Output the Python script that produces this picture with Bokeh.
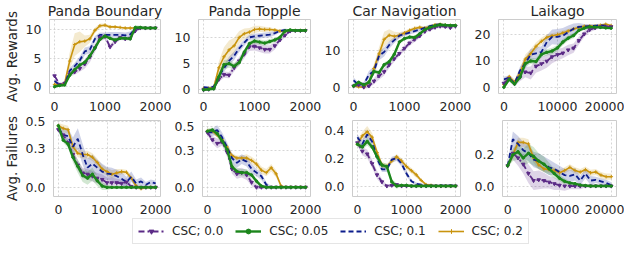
from bokeh.plotting import figure
from bokeh.layouts import column, row
from bokeh.models import Range1d, Legend, LegendItem, NumeralTickFormatter
from bokeh.embed import file_html
from bokeh.resources import INLINE

# ---------------- data ----------------
titles = ["Panda Boundary", "Panda Topple", "Car Navigation", "Laikago"]
labels = ["CSC; 0.0", "CSC; 0.05", "CSC; 0.1", "CSC; 0.2"]

steps = [0, 100, 200, 300, 400, 500, 600, 700, 800, 900, 1000,
         1100, 1200, 1300, 1400, 1500, 1600, 1700, 1800, 1900, 2000]
laikago_steps = [0, 1000, 2000, 3000, 4000, 5000, 6000, 7000, 8000, 9000, 10000,
                 11000, 12000, 13000, 14000, 15000, 16000, 17000, 18000, 19000, 20000]

# Panda Boundary - rewards
pb_rew_p = [1.9, 0.4, 0.6, 2.2, 2.6, 3.2, 4.0, 5.2, 6.8, 8.6, 8.8, 7.0, 7.9, 8.6, 8.4, 8.5, 9.8, 10.3, 10.3, 10.3, 10.3]
pb_rew_p_sd = [0.3, 0.2, 0.3, 0.4, 0.5, 0.6, 0.8, 0.9, 0.8, 0.6, 0.5, 0.5, 0.4, 0.4, 0.3, 0.3, 0.3, 0.2, 0.2, 0.2, 0.2]
pb_rew_g = [0.0, 0.2, 0.3, 2.0, 3.0, 3.8, 4.3, 5.4, 6.8, 8.3, 8.9, 8.5, 8.2, 8.5, 8.5, 8.4, 10.4, 10.4, 10.3, 10.3, 10.3]
pb_rew_g_sd = [0.2, 0.2, 0.2, 0.3, 0.3, 0.3, 0.3, 0.3, 0.3, 0.3, 0.3, 0.3, 0.3, 0.3, 0.3, 0.3, 0.4, 0.3, 0.2, 0.2, 0.2]
pb_rew_b = [1.0, 0.3, 0.4, 2.8, 3.6, 4.6, 6.2, 6.5, 8.4, 9.1, 9.1, 9.1, 9.1, 9.1, 9.0, 9.2, 10.2, 10.3, 10.3, 10.3, 10.3]
pb_rew_b_sd = [0.3, 0.2, 0.3, 0.5, 0.6, 0.7, 0.7, 0.6, 0.5, 0.4, 0.4, 0.5, 0.5, 0.5, 0.5, 0.5, 0.3, 0.2, 0.2, 0.2, 0.2]
pb_rew_o = [0.4, 0.3, 0.6, 4.5, 7.4, 7.9, 8.0, 8.4, 9.9, 10.7, 10.8, 10.5, 10.5, 10.4, 10.3, 10.3, 10.3, 10.3, 10.3, 10.3, 10.3]
pb_rew_o_sd = [0.2, 0.2, 0.3, 1.5, 2.0, 1.8, 1.0, 0.7, 0.5, 0.4, 0.3, 0.3, 0.2, 0.2, 0.2, 0.2, 0.2, 0.2, 0.2, 0.2, 0.2]

# Panda Topple - rewards
pt_rew_p = [0.0, 0.1, 0.3, 2.0, 2.9, 2.8, 4.2, 5.5, 6.8, 8.2, 8.3, 8.0, 7.7, 7.7, 8.4, 9.5, 10.4, 11.2, 11.3, 11.3, 11.3]
pt_rew_p_sd = [0.2, 0.2, 0.3, 0.5, 0.6, 0.6, 0.7, 0.8, 0.8, 0.8, 0.8, 0.8, 0.8, 0.8, 0.7, 0.5, 0.4, 0.3, 0.2, 0.2, 0.2]
pt_rew_g = [0.0, 0.1, 0.2, 2.5, 4.8, 5.0, 4.5, 5.2, 7.2, 8.8, 9.3, 9.1, 8.9, 9.2, 9.5, 10.0, 11.2, 11.4, 11.3, 11.3, 11.3]
pt_rew_g_sd = [0.2, 0.2, 0.3, 0.7, 0.9, 0.8, 0.6, 0.6, 0.6, 0.5, 0.5, 0.5, 0.5, 0.5, 0.4, 0.3, 0.3, 0.2, 0.2, 0.2, 0.2]
pt_rew_b = [0.5, 0.4, 0.6, 2.6, 4.1, 5.5, 6.5, 7.9, 9.0, 10.0, 10.2, 10.3, 10.4, 10.5, 10.8, 11.2, 11.4, 11.3, 11.3, 11.3, 11.3]
pt_rew_b_sd = [0.2, 0.2, 0.3, 0.6, 0.7, 0.8, 0.8, 0.7, 0.6, 0.5, 0.5, 0.5, 0.5, 0.5, 0.4, 0.3, 0.3, 0.2, 0.2, 0.2, 0.2]
pt_rew_o = [0.3, 0.3, 0.5, 4.2, 6.3, 7.6, 8.4, 10.0, 10.7, 11.0, 11.5, 11.6, 11.5, 11.5, 11.4, 11.2, 11.1, 11.3, 11.3, 11.3, 11.3]
pt_rew_o_sd = [0.2, 0.2, 0.3, 1.2, 1.8, 1.8, 1.5, 1.2, 1.0, 0.8, 0.7, 0.6, 0.5, 0.4, 0.3, 0.3, 0.3, 0.2, 0.2, 0.2, 0.2]

# Car Navigation - rewards
cn_rew_p = [0.5, 0.8, 0.2, 0.5, 1.8, 3.2, 4.3, 6.2, 7.8, 9.2, 10.6, 12.0, 13.0, 13.9, 15.1, 15.7, 16.2, 16.5, 16.4, 16.1, 16.5]
cn_rew_p_sd = [0.5, 0.5, 0.4, 0.5, 0.8, 1.0, 1.0, 0.9, 0.8, 0.7, 0.7, 0.7, 0.7, 0.6, 0.5, 0.5, 0.5, 0.4, 0.4, 0.4, 0.4]
cn_rew_g = [0.5, 1.5, 0.8, 1.5, 4.4, 4.1, 6.2, 7.0, 9.0, 12.3, 13.2, 13.6, 13.5, 14.5, 15.6, 16.2, 16.6, 16.9, 16.8, 16.7, 16.7]
cn_rew_g_sd = [0.4, 0.5, 0.4, 0.5, 0.6, 0.6, 0.6, 0.6, 0.6, 0.5, 0.5, 0.5, 0.5, 0.5, 0.4, 0.4, 0.3, 0.3, 0.3, 0.3, 0.3]
cn_rew_b = [2.0, 0.8, 1.0, 3.5, 4.5, 8.6, 9.6, 11.5, 12.8, 14.0, 14.4, 14.8, 15.2, 15.6, 16.1, 16.5, 16.9, 17.0, 16.8, 16.7, 16.7]
cn_rew_b_sd = [0.8, 0.6, 0.6, 1.0, 1.2, 1.2, 1.2, 1.0, 0.8, 0.7, 0.6, 0.5, 0.5, 0.5, 0.4, 0.4, 0.3, 0.3, 0.3, 0.3, 0.3]
cn_rew_o = [0.5, 0.3, 0.2, 1.5, 5.2, 9.1, 13.0, 14.1, 13.8, 14.1, 14.7, 15.4, 15.9, 16.2, 16.0, 16.4, 16.9, 17.0, 16.8, 16.7, 16.7]
cn_rew_o_sd = [0.3, 0.3, 0.3, 0.6, 1.2, 1.8, 2.0, 1.6, 1.2, 0.8, 0.6, 0.5, 0.5, 0.4, 0.4, 0.4, 0.3, 0.3, 0.3, 0.3, 0.3]

# Laikago - rewards
lk_rew_p = [1.5, 3.2, 1.4, 3.8, 5.8, 5.4, 8.0, 8.9, 9.9, 11.6, 12.4, 13.0, 14.2, 14.9, 17.8, 20.3, 21.9, 22.6, 23.0, 23.0, 23.0]
lk_rew_p_sd = [1.0, 1.0, 1.0, 1.5, 2.0, 2.5, 2.5, 2.5, 2.5, 2.5, 2.2, 2.0, 2.0, 1.8, 1.5, 1.2, 1.0, 0.8, 0.6, 0.6, 0.6]
lk_rew_g = [0.0, 3.0, 1.2, 3.8, 9.0, 10.0, 9.8, 12.5, 13.3, 13.8, 15.0, 17.2, 18.7, 19.7, 21.7, 22.5, 23.0, 22.9, 22.8, 22.6, 22.5]
lk_rew_g_sd = [0.5, 0.8, 0.8, 1.0, 1.2, 1.2, 1.2, 1.2, 1.2, 1.2, 1.2, 1.2, 1.0, 1.0, 0.8, 0.7, 0.6, 0.5, 0.5, 0.5, 0.5]
lk_rew_b = [3.0, 3.6, 1.4, 6.3, 9.1, 12.4, 12.9, 13.4, 17.2, 19.2, 19.2, 19.6, 21.0, 22.3, 23.0, 23.1, 23.3, 23.4, 23.6, 23.5, 23.0]
lk_rew_b_sd = [1.0, 1.0, 1.0, 1.5, 2.0, 2.2, 2.2, 2.2, 2.5, 2.8, 3.0, 3.0, 2.5, 2.0, 1.5, 1.0, 0.8, 0.7, 0.6, 0.6, 0.6]
lk_rew_o = [1.0, 4.0, 2.0, 5.5, 10.7, 12.8, 15.6, 17.5, 19.0, 19.6, 20.0, 20.7, 21.4, 22.2, 22.8, 23.2, 23.3, 23.3, 23.6, 24.0, 23.5]
lk_rew_o_sd = [0.8, 1.0, 1.0, 1.5, 1.8, 1.8, 1.5, 1.3, 1.2, 1.0, 1.0, 0.9, 0.8, 0.7, 0.6, 0.6, 0.5, 0.5, 0.5, 0.5, 0.5]

# Panda Boundary - failures
pb_fail_p = [0.44, 0.40, 0.34, 0.25, 0.17, 0.11, 0.10, 0.085, 0.07, 0.06, 0.035, 0.035, 0.035, 0.03, 0.04, 0.005, 0.0, 0.0, 0.0, 0.0, 0.0]
pb_fail_p_sd = [0.02, 0.02, 0.03, 0.04, 0.04, 0.04, 0.04, 0.04, 0.04, 0.04, 0.04, 0.04, 0.03, 0.03, 0.03, 0.02, 0.01, 0.01, 0.01, 0.01, 0.01]
pb_fail_g = [0.47, 0.36, 0.33, 0.23, 0.16, 0.09, 0.07, 0.10, 0.05, 0.01, 0.0, 0.0, 0.0, 0.0, 0.0, 0.0, 0.0, 0.0, 0.0, 0.0, 0.0]
pb_fail_g_sd = [0.02, 0.02, 0.03, 0.04, 0.05, 0.05, 0.05, 0.05, 0.04, 0.03, 0.02, 0.01, 0.01, 0.01, 0.01, 0.01, 0.01, 0.01, 0.01, 0.01, 0.01]
pb_fail_b = [0.45, 0.40, 0.39, 0.31, 0.37, 0.25, 0.15, 0.18, 0.15, 0.12, 0.105, 0.10, 0.085, 0.065, 0.04, 0.08, 0.03, 0.045, 0.02, 0.04, 0.03]
pb_fail_b_sd = [0.03, 0.05, 0.06, 0.07, 0.08, 0.08, 0.07, 0.07, 0.06, 0.06, 0.05, 0.05, 0.05, 0.05, 0.04, 0.04, 0.03, 0.03, 0.02, 0.02, 0.02]
pb_fail_o = [0.47, 0.45, 0.44, 0.31, 0.26, 0.25, 0.25, 0.23, 0.19, 0.14, 0.12, 0.10, 0.11, 0.12, 0.115, 0.07, 0.01, -0.01, 0.0, 0.0, 0.0]
pb_fail_o_sd = [0.02, 0.03, 0.03, 0.03, 0.03, 0.03, 0.03, 0.03, 0.03, 0.03, 0.03, 0.03, 0.03, 0.02, 0.02, 0.02, 0.02, 0.01, 0.01, 0.01, 0.01]

# Panda Topple - failures
pt_fail_p = [0.45, 0.39, 0.36, 0.37, 0.29, 0.15, 0.11, 0.12, 0.10, 0.04, 0.0, 0.0, 0.0, 0.0, 0.0, 0.0, 0.0, 0.0, 0.0, 0.0, 0.0]
pt_fail_p_sd = [0.02, 0.03, 0.04, 0.03, 0.04, 0.04, 0.04, 0.04, 0.04, 0.03, 0.02, 0.01, 0.005, 0.005, 0.005, 0.005, 0.005, 0.005, 0.005, 0.005, 0.005]
pt_fail_g = [0.46, 0.47, 0.44, 0.38, 0.31, 0.17, 0.13, 0.12, 0.12, 0.10, 0.05, 0.01, 0.0, 0.0, 0.0, 0.0, 0.0, 0.0, 0.0, 0.0, 0.0]
pt_fail_g_sd = [0.02, 0.02, 0.03, 0.03, 0.04, 0.04, 0.03, 0.03, 0.03, 0.02, 0.02, 0.01, 0.005, 0.005, 0.005, 0.005, 0.005, 0.005, 0.005, 0.005, 0.005]
pt_fail_b = [0.45, 0.45, 0.47, 0.41, 0.33, 0.24, 0.20, 0.23, 0.21, 0.15, 0.12, 0.09, 0.02, 0.0, 0.0, 0.0, 0.0, 0.0, 0.0, 0.0, 0.0]
pt_fail_b_sd = [0.02, 0.03, 0.04, 0.04, 0.04, 0.04, 0.04, 0.04, 0.04, 0.04, 0.03, 0.03, 0.02, 0.01, 0.005, 0.005, 0.005, 0.005, 0.005, 0.005, 0.005]
pt_fail_o = [0.46, 0.46, 0.43, 0.39, 0.33, 0.26, 0.24, 0.24, 0.24, 0.22, 0.19, 0.14, 0.12, 0.16, 0.11, 0.01, 0.0, 0.0, 0.0, 0.0, 0.0]
pt_fail_o_sd = [0.02, 0.02, 0.02, 0.02, 0.02, 0.02, 0.02, 0.02, 0.03, 0.03, 0.03, 0.03, 0.03, 0.03, 0.03, 0.01, 0.005, 0.005, 0.005, 0.005, 0.005]

# Car Navigation - failures
cn_fail_p = [0.31, 0.25, 0.23, 0.16, 0.08, 0.03, 0.0, 0.005, 0.01, 0.0, 0.0, 0.0, 0.0, 0.0, 0.0, 0.0, 0.0, 0.0, 0.0, 0.0, 0.0]
cn_fail_p_sd = [0.02, 0.03, 0.03, 0.03, 0.03, 0.02, 0.01, 0.01, 0.01, 0.005, 0.005, 0.005, 0.005, 0.005, 0.005, 0.005, 0.005, 0.005, 0.005, 0.005, 0.005]
cn_fail_g = [0.30, 0.28, 0.32, 0.28, 0.21, 0.15, 0.14, 0.03, 0.0, 0.005, 0.005, 0.0, 0.0, 0.0, 0.0, 0.0, 0.0, 0.0, 0.0, 0.0, 0.0]
cn_fail_g_sd = [0.02, 0.02, 0.03, 0.02, 0.02, 0.02, 0.02, 0.02, 0.02, 0.01, 0.01, 0.01, 0.005, 0.005, 0.005, 0.005, 0.005, 0.005, 0.005, 0.005, 0.005]
cn_fail_b = [0.35, 0.30, 0.37, 0.32, 0.20, 0.12, 0.12, 0.19, 0.20, 0.16, 0.09, 0.035, 0.015, 0.01, 0.0, 0.005, 0.0, 0.005, 0.0, 0.005, 0.0]
cn_fail_b_sd = [0.02, 0.03, 0.03, 0.03, 0.03, 0.02, 0.02, 0.02, 0.02, 0.02, 0.02, 0.01, 0.01, 0.01, 0.01, 0.01, 0.01, 0.01, 0.01, 0.01, 0.01]
cn_fail_o = [0.30, 0.36, 0.39, 0.35, 0.24, 0.15, 0.14, 0.18, 0.21, 0.18, 0.14, 0.11, 0.08, 0.04, 0.01, 0.005, 0.0, 0.0, 0.0, 0.0, 0.0]
cn_fail_o_sd = [0.02, 0.03, 0.04, 0.03, 0.03, 0.02, 0.02, 0.02, 0.02, 0.02, 0.02, 0.02, 0.02, 0.01, 0.01, 0.01, 0.01, 0.01, 0.01, 0.01, 0.01]

# Laikago - failures
lk_fail_p = [0.13, 0.21, 0.18, 0.14, 0.08, 0.035, 0.04, 0.035, 0.025, 0.015, 0.005, 0.0, 0.0, 0.0, 0.0, 0.0, 0.0, 0.0, 0.0, 0.0, 0.0]
lk_fail_p_sd = [0.01, 0.04, 0.05, 0.06, 0.06, 0.06, 0.06, 0.05, 0.04, 0.04, 0.03, 0.03, 0.02, 0.02, 0.02, 0.01, 0.01, 0.01, 0.01, 0.01, 0.01]
lk_fail_g = [0.13, 0.20, 0.22, 0.18, 0.21, 0.19, 0.16, 0.14, 0.11, 0.08, 0.05, 0.03, 0.02, 0.015, 0.006, 0.003, 0.0, 0.0, 0.0, 0.0, 0.0]
lk_fail_g_sd = [0.01, 0.04, 0.05, 0.06, 0.06, 0.06, 0.05, 0.05, 0.04, 0.03, 0.02, 0.02, 0.01, 0.01, 0.01, 0.01, 0.01, 0.005, 0.005, 0.005, 0.005]
lk_fail_b = [0.13, 0.30, 0.27, 0.23, 0.21, 0.17, 0.16, 0.14, 0.12, 0.11, 0.09, 0.07, 0.065, 0.075, 0.035, 0.08, 0.035, 0.04, 0.03, 0.02, 0.005]
lk_fail_b_sd = [0.02, 0.05, 0.05, 0.05, 0.05, 0.05, 0.05, 0.05, 0.05, 0.04, 0.04, 0.04, 0.04, 0.04, 0.03, 0.03, 0.03, 0.02, 0.02, 0.02, 0.02]
lk_fail_o = [0.13, 0.20, 0.28, 0.28, 0.27, 0.18, 0.135, 0.11, 0.105, 0.10, 0.085, 0.10, 0.12, 0.10, 0.09, 0.105, 0.085, 0.09, 0.07, 0.06, 0.06]
lk_fail_o_sd = [0.01, 0.03, 0.03, 0.03, 0.03, 0.03, 0.03, 0.02, 0.02, 0.02, 0.02, 0.02, 0.02, 0.02, 0.02, 0.02, 0.02, 0.02, 0.02, 0.02, 0.02]

# ---------------- style ----------------
FONT = "DejaVu Sans"
TXT = "#262626"
PURPLE = "#5b2a86"
GREEN = "#1c861c"
BLUE = "#0c1d8c"
GOLD = "#c9940e"

STYLES = {
    "p": dict(color=PURPLE, dash="6 3 2 3", lw=1.8, marker="inverted_triangle", ms=3.5),
    "g": dict(color=GREEN, dash="solid", lw=2.4, marker="circle", ms=2.5),
    "b": dict(color=BLUE, dash="5 3", lw=1.8, marker=None, ms=0),
    "o": dict(color=GOLD, dash="solid", lw=1.6, marker="cross", ms=3.5),
}
DRAW_ORDER = ["o", "b", "p", "g"]

WIDTHS = [171, 150, 150, 153]
LEFTS = [42, 23, 23, 23]
RIGHTS = [11, 11, 11, 8]
TOP_H = 113
BOT_H = 103


def make_panel(col, xs, series, xr, yr, xticks, yticks, yfmt, top_row, ylabel):
    height = TOP_H if top_row else BOT_H
    p = figure(width=WIDTHS[col], height=height, output_backend="svg",
               toolbar_location=None, x_range=Range1d(*xr), y_range=Range1d(*yr),
               min_border_left=LEFTS[col], min_border_right=RIGHTS[col],
               min_border_top=18 if top_row else 7, min_border_bottom=17,
               title=titles[col] if top_row else None)
    p.background_fill_color = "white"
    p.border_fill_color = "white"
    p.outline_line_color = "#cccccc"
    p.outline_line_width = 1
    if top_row:
        p.title.text_font = FONT
        p.title.text_font_size = "14px"
        p.title.text_font_style = "normal"
        p.title.text_color = TXT
        p.title.align = "center"
        p.title.standoff = 1
    for ax in (p.xaxis[0], p.yaxis[0]):
        ax.axis_line_color = None
        ax.major_tick_line_color = None
        ax.minor_tick_line_color = None
        ax.major_label_text_font = FONT
        ax.major_label_text_font_size = "12.5px"
        ax.major_label_text_color = TXT
        ax.major_label_standoff = 2
    p.xaxis[0].ticker = xticks
    p.yaxis[0].ticker = yticks
    p.xaxis[0].formatter = NumeralTickFormatter(format="0")
    p.yaxis[0].formatter = NumeralTickFormatter(format=yfmt)
    if ylabel:
        p.yaxis[0].axis_label = ylabel
        p.yaxis[0].axis_label_text_font = FONT
        p.yaxis[0].axis_label_text_font_size = "13.5px"
        p.yaxis[0].axis_label_text_font_style = "normal"
        p.yaxis[0].axis_label_text_color = TXT
        p.yaxis[0].axis_label_standoff = 3
    for g in (p.xgrid[0], p.ygrid[0]):
        g.grid_line_color = "#cccccc"
        g.grid_line_dash = "2 2"
        g.grid_line_width = 0.8

    for key in DRAW_ORDER:
        m, sd = series[key]
        st = STYLES[key]
        lo = [a - b for a, b in zip(m, sd)]
        hi = [a + b for a, b in zip(m, sd)]
        p.varea(x=xs, y1=lo, y2=hi, fill_color=st["color"], fill_alpha=0.2)
    for key in DRAW_ORDER:
        m, sd = series[key]
        st = STYLES[key]
        p.line(x=xs, y=m, line_color=st["color"], line_width=st["lw"], line_dash=st["dash"])
        if st["marker"]:
            p.scatter(x=xs, y=m, marker=st["marker"], size=st["ms"],
                      line_color=st["color"], fill_color=st["color"])
    return p


X_SHORT = (-100, 2100)
X_LONG = (-1000, 21000)
T_SHORT = [0, 1000, 2000]
T_LONG = [0, 10000, 20000]

rew_panels = [
    (steps, {"p": (pb_rew_p, pb_rew_p_sd), "g": (pb_rew_g, pb_rew_g_sd), "b": (pb_rew_b, pb_rew_b_sd), "o": (pb_rew_o, pb_rew_o_sd)},
     X_SHORT, (-1.2, 11.8), T_SHORT, [0, 5, 10]),
    (steps, {"p": (pt_rew_p, pt_rew_p_sd), "g": (pt_rew_g, pt_rew_g_sd), "b": (pt_rew_b, pt_rew_b_sd), "o": (pt_rew_o, pt_rew_o_sd)},
     X_SHORT, (-0.7, 13.4), T_SHORT, [0, 5, 10]),
    (steps, {"p": (cn_rew_p, cn_rew_p_sd), "g": (cn_rew_g, cn_rew_g_sd), "b": (cn_rew_b, cn_rew_b_sd), "o": (cn_rew_o, cn_rew_o_sd)},
     X_SHORT, (-1.5, 18.3), T_SHORT, [0, 10]),
    (laikago_steps, {"p": (lk_rew_p, lk_rew_p_sd), "g": (lk_rew_g, lk_rew_g_sd), "b": (lk_rew_b, lk_rew_b_sd), "o": (lk_rew_o, lk_rew_o_sd)},
     X_LONG, (-2.4, 25.8), T_LONG, [0, 10, 20]),
]
fail_panels = [
    (steps, {"p": (pb_fail_p, pb_fail_p_sd), "g": (pb_fail_g, pb_fail_g_sd), "b": (pb_fail_b, pb_fail_b_sd), "o": (pb_fail_o, pb_fail_o_sd)},
     X_SHORT, (-0.07, 0.51), T_SHORT, [0, 0.3, 0.5]),
    (steps, {"p": (pt_fail_p, pt_fail_p_sd), "g": (pt_fail_g, pt_fail_g_sd), "b": (pt_fail_b, pt_fail_b_sd), "o": (pt_fail_o, pt_fail_o_sd)},
     X_SHORT, (-0.076, 0.548), T_SHORT, [0, 0.3, 0.5]),
    (steps, {"p": (cn_fail_p, cn_fail_p_sd), "g": (cn_fail_g, cn_fail_g_sd), "b": (cn_fail_b, cn_fail_b_sd), "o": (cn_fail_o, cn_fail_o_sd)},
     X_SHORT, (-0.075, 0.47), T_SHORT, [0, 0.2, 0.4]),
    (laikago_steps, {"p": (lk_fail_p, lk_fail_p_sd), "g": (lk_fail_g, lk_fail_g_sd), "b": (lk_fail_b, lk_fail_b_sd), "o": (lk_fail_o, lk_fail_o_sd)},
     X_LONG, (-0.067, 0.42), T_LONG, [0, 0.2]),
]

top = []
for i, (xs, ser, xr, yr, xt, yt) in enumerate(rew_panels):
    top.append(make_panel(i, xs, ser, xr, yr, xt, yt, "0", True, "Avg. Rewards" if i == 0 else None))
bottom = []
for i, (xs, ser, xr, yr, xt, yt) in enumerate(fail_panels):
    bottom.append(make_panel(i, xs, ser, xr, yr, xt, yt, "0.0", False, "Avg. Failures" if i == 0 else None))

# ---------------- legend ----------------
lg = figure(width=624, height=29, output_backend="svg", toolbar_location=None,
            x_range=Range1d(0, 1), y_range=Range1d(0, 1),
            x_axis_type=None, y_axis_type=None,
            min_border=0, min_border_left=0, min_border_right=0,
            min_border_top=0, min_border_bottom=0)
lg.outline_line_color = None
lg.background_fill_color = "white"
lg.border_fill_color = "white"
items = []
hidden_x = [-5, -4]
hidden_y = [-5, -4]
for key, lab in zip(["p", "g", "b", "o"], labels):
    st = STYLES[key]
    rs = [lg.line(x=hidden_x, y=hidden_y, line_color=st["color"], line_width=st["lw"], line_dash=st["dash"])]
    if st["marker"]:
        rs.append(lg.scatter(x=hidden_x, y=hidden_y, marker=st["marker"], size=st["ms"],
                             line_color=st["color"], fill_color=st["color"]))
    items.append(LegendItem(label=lab, renderers=rs))
legend = Legend(items=items, orientation="horizontal", location=(132, 1))
legend.label_text_font = FONT
legend.label_text_font_size = "12px"
legend.label_text_color = TXT
legend.glyph_width = 26
legend.glyph_height = 12
legend.label_standoff = 8
legend.spacing = 12
legend.padding = 5
legend.margin = 0
legend.border_line_color = "#cccccc"
legend.border_line_width = 1
legend.background_fill_alpha = 1.0
lg.add_layout(legend)

layout = column(row(*top), row(*bottom), lg)

open("out.html", "w").write(file_html(layout, INLINE))
